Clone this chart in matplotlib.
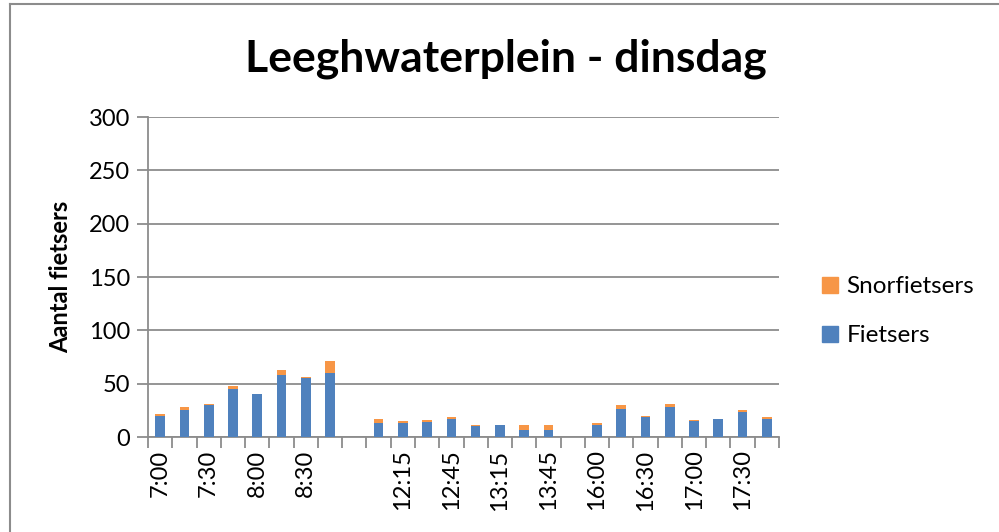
import numpy as np
import matplotlib.pyplot as plt
from matplotlib.lines import Line2D
from matplotlib.patches import Patch

plt.rcParams['font.family'] = ['Lato', 'DejaVu Sans']

# 15-minute intervals, empty categories separate the three periods
tijden = ["7:00", "7:15", "7:30", "7:45", "8:00", "8:15", "8:30", "8:45", "",
          "12:00", "12:15", "12:30", "12:45", "13:00", "13:15", "13:30", "13:45", "",
          "16:00", "16:15", "16:30", "16:45", "17:00", "17:15", "17:30", "17:45"]
fietsers = [20, 25, 30, 45, 40, 58, 55, 60, 0,
            13, 13, 14, 17, 10, 11, 7, 7, 0,
            11, 26, 19, 28, 15, 17, 23, 17]
snorfietsers = [2, 3, 1, 3, 0, 5, 1, 11, 0,
                4, 2, 2, 2, 1, 0, 4, 4, 0,
                2, 4, 1, 3, 1, 0, 2, 2]

blauw = "#4F81BD"
oranje = "#F79646"
grijs = "#8c8c8c"

fig = plt.figure(figsize=(9.99, 5.32), dpi=100)
ax = fig.add_axes([148/999, 95/532, 631/999, 320/532])

x = np.arange(len(tijden)) + 0.5
ax.bar(x, fietsers, width=0.4, color=blauw, zorder=3)
ax.bar(x, snorfietsers, width=0.4, bottom=fietsers, color=oranje, zorder=3)

ax.set_xlim(0, len(tijden))
ax.set_ylim(0, 300)
ax.set_yticks(range(0, 301, 50))
ax.yaxis.grid(True, color=grijs, lw=1.3, zorder=0)
ax.tick_params(axis='y', length=8, width=1.3, color=grijs, labelsize=17, pad=5)

ax.set_xticks(x[::2])
ax.set_xticklabels(tijden[::2], rotation=90, fontsize=17)
ax.set_xticks(np.arange(len(tijden) + 1), minor=True)
ax.tick_params(axis='x', which='major', length=0, pad=9)
ax.tick_params(axis='x', which='minor', length=8, width=1.3, color=grijs)

for s in ['top', 'right']:
    ax.spines[s].set_visible(False)
for s in ['left', 'bottom']:
    ax.spines[s].set_color(grijs)
    ax.spines[s].set_linewidth(1.3)

ax.set_ylabel("Aantal fietsers", fontsize=17, fontweight='bold')
ax.yaxis.set_label_coords(-0.12, 0.5)
fig.text(0.506, 0.89, "Leeghwaterplein - dinsdag", ha='center', va='center',
         fontsize=32, fontweight='bold')

handles = [Patch(color=oranje), Patch(color=blauw)]
fig.legend(handles, ["Snorfietsers", "Fietsers"], loc='center left',
           bbox_to_anchor=(0.801, 0.415), frameon=False, fontsize=17.5,
           handlelength=0.65, handleheight=0.65, handletextpad=0.35, labelspacing=1.15)

# chart-area border
fig.add_artist(Line2D([10/999, 1], [1 - 4/532, 1 - 4/532], color=grijs, lw=1.5))
fig.add_artist(Line2D([10/999, 10/999], [0, 1 - 4/532], color=grijs, lw=1.5))

fig.savefig("out.png", dpi=100)
